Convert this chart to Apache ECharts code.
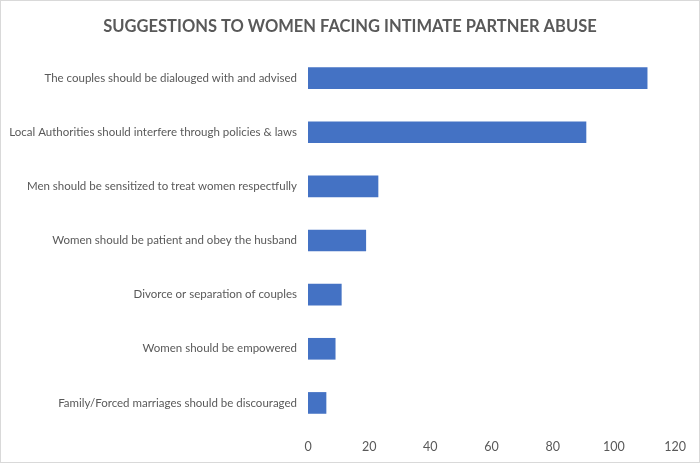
<!DOCTYPE html>
<html>
<head>
<meta charset="utf-8">
<script src="https://cdn.jsdelivr.net/npm/echarts@6/dist/echarts.min.js"></script>
<style>
  html, body { margin: 0; padding: 0; background: #fff; }
  #chart { width: 698px; height: 461px; border: 1px solid #d9d9d9; }
</style>
</head>
<body>
<div id="chart"></div>
<script>
// categories listed top to bottom as in the picture
const categories = [
  'The couples should be dialouged with and advised',
  'Local Authorities should interfere through policies & laws',
  'Men should be sensitized to treat women respectfully',
  'Women should be patient and obey the husband',
  'Divorce or separation of couples',
  'Women should be empowered',
  'Family/Forced marriages should be discouraged'
];
const values = [111, 91, 23, 19, 11, 9, 6];
const xTicks = [0, 20, 40, 60, 80, 100, 120];

const chart = echarts.init(document.getElementById('chart'));
chart.setOption({
  animation: false,
  title: {
    text: 'SUGGESTIONS TO WOMEN FACING INTIMATE PARTNER ABUSE',
    left: 'center',
    top: 12,
    textStyle: { fontFamily: 'Lato', fontSize: 16.5, fontWeight: 'bold', color: '#595959' }
  },
  grid: { left: 307, right: 24, top: 50, bottom: 32, outerBoundsMode: 'none' },
  xAxis: {
    type: 'value',
    min: xTicks[0],
    max: xTicks[xTicks.length - 1],
    interval: 20,
    axisLine: { show: false },
    axisTick: { show: false },
    splitLine: { show: false },
    axisLabel: { color: '#595959', fontFamily: 'Lato', fontSize: 12.5, margin: 10 }
  },
  yAxis: {
    type: 'category',
    inverse: true,
    data: categories,
    axisLine: { show: false },
    axisTick: { show: false },
    axisLabel: { color: '#595959', fontFamily: 'Lato', fontSize: 11.5, margin: 11 }
  },
  series: [{
    type: 'bar',
    data: values,
    barWidth: '40%',
    itemStyle: { color: '#4472C4' }
  }]
});
</script>
</body>
</html>
